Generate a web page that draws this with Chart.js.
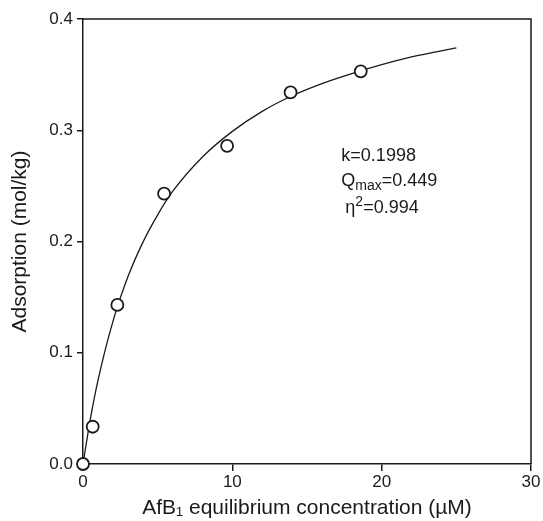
<!DOCTYPE html>
<html>
<head>
<meta charset="utf-8">
<script src="https://cdn.jsdelivr.net/npm/chart.js@4.4.1/dist/chart.umd.min.js"></script>
<style>
html,body{margin:0;padding:0;background:#fff;}
#wrap{width:543px;height:521px;}
</style>
</head>
<body>
<div id="wrap"><canvas id="c" width="543" height="521"></canvas></div>
<script>
// measured points
const concX = [0, 0.65, 2.3, 5.43, 9.65, 13.9, 18.6];
const adsY  = [0, 0.0335, 0.143, 0.243, 0.286, 0.334, 0.353];
// fitted curve
const curveX = [0, 0.5, 1, 2, 3, 4, 5, 6, 8, 10, 12, 14, 16, 18, 20, 22, 25];
const curveY = [0, 0.041, 0.075, 0.128, 0.168, 0.199, 0.224, 0.245, 0.276, 0.299, 0.317, 0.331, 0.342, 0.351, 0.359, 0.366, 0.374];
const xTicks = [0, 10, 20, 30];
const yTicks = [0.0, 0.1, 0.2, 0.3, 0.4];

const FONT = '"Liberation Sans", Arial, Helvetica, sans-serif';
const INK = '#1a1a1a';

const boxPlugin = {
  id: 'box',
  afterDraw(chart) {
    const {ctx, chartArea: a} = chart;
    ctx.save();
    ctx.strokeStyle = INK;
    ctx.lineWidth = 1.5;
    ctx.beginPath();
    ctx.moveTo(a.left, a.top);
    ctx.lineTo(a.right, a.top);
    ctx.lineTo(a.right, a.bottom);
    ctx.stroke();
    ctx.restore();
  }
};

const annotPlugin = {
  id: 'annot',
  afterDraw(chart) {
    const {ctx, scales} = chart;
    const x0 = scales.x.getPixelForValue(17.3);
    const ys = [0.277, 0.254, 0.230];
    ctx.save();
    ctx.fillStyle = INK;
    ctx.textBaseline = 'middle';
    const main = '18px ' + FONT, small = '14px ' + FONT;
    ctx.font = main;
    ctx.fillText('k=0.1998', x0, scales.y.getPixelForValue(ys[0]));
    let y = scales.y.getPixelForValue(ys[1]);
    let x = x0;
    ctx.fillText('Q', x, y); x += ctx.measureText('Q').width;
    ctx.font = small; ctx.fillText('max', x, y + 5); x += ctx.measureText('max').width;
    ctx.font = main; ctx.fillText('=0.449', x, y);
    y = scales.y.getPixelForValue(ys[2]);
    x = x0 + 4;
    ctx.fillText('η', x, y); x += ctx.measureText('η').width;
    ctx.font = small; ctx.fillText('2', x, y - 6); x += ctx.measureText('2').width;
    ctx.font = main; ctx.fillText('=0.994', x, y);
    ctx.restore();
  }
};

new Chart(document.getElementById('c'), {
  type: 'scatter',
  data: {
    datasets: [
      {
        type: 'line',
        data: curveX.map((v, i) => ({x: v, y: curveY[i]})),
        borderColor: INK,
        borderWidth: 1.3,
        pointRadius: 0,
        cubicInterpolationMode: 'monotone',
        fill: false,
        order: 2
      },
      {
        data: concX.map((v, i) => ({x: v, y: adsY[i]})),
        pointRadius: 6,
        pointBorderWidth: 1.8,
        pointBackgroundColor: '#fff',
        pointBorderColor: INK,
        clip: false,
        order: 1
      }
    ]
  },
  options: {
    responsive: false,
    animation: false,
    devicePixelRatio: 1,
    layout: {padding: {left: 0, right: 12, top: 19, bottom: 0}},
    plugins: {legend: {display: false}, tooltip: {enabled: false}},
    scales: {
      x: {
        type: 'linear', min: 0, max: 30,
        afterBuildTicks: s => { s.ticks = xTicks.map(v => ({value: v})); },
        afterFit: s => { s.height = 57; },
        grid: {display: true, drawOnChartArea: false, drawTicks: true, tickLength: 7, color: INK, lineWidth: 1.5},
        border: {display: true, color: INK, width: 1.5},
        ticks: {color: INK, font: {family: FONT, size: 17}, padding: 1, callback: v => String(v), maxRotation: 0},
        title: {display: true, text: 'AfB₁ equilibrium concentration (µM)', color: INK, font: {family: FONT, size: 21}, padding: {top: 1, bottom: 0}}
      },
      y: {
        type: 'linear', min: 0, max: 0.4,
        afterBuildTicks: s => { s.ticks = yTicks.map(v => ({value: v})); },
        afterFit: s => { s.width = 83; },
        grid: {display: true, drawOnChartArea: false, drawTicks: true, tickLength: 6, color: INK, lineWidth: 1.5},
        border: {display: true, color: INK, width: 1.5},
        ticks: {color: INK, font: {family: FONT, size: 17}, padding: 4, callback: v => v.toFixed(1)},
        title: {display: true, text: 'Adsorption (mol/kg)', color: INK, font: {family: FONT, size: 21}, padding: {top: 8, bottom: 0}}
      }
    }
  },
  plugins: [boxPlugin, annotPlugin]
});
</script>
</body>
</html>
